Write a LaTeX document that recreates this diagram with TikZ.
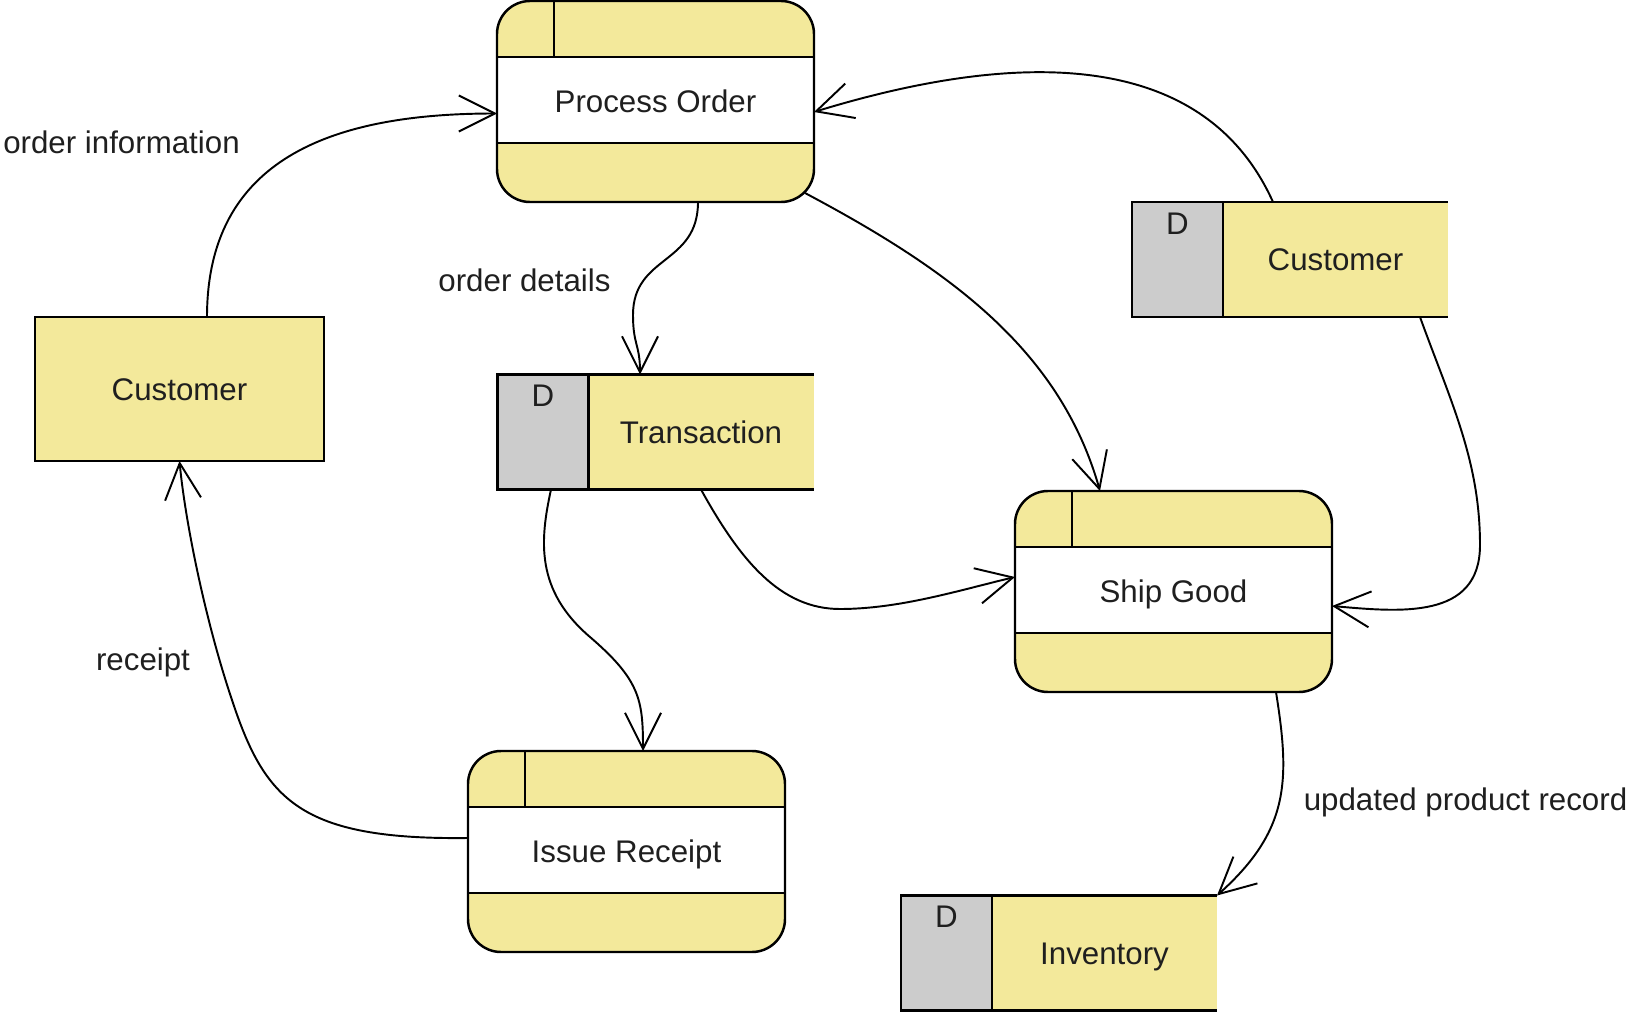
\documentclass[tikz,border=0pt]{standalone}
\usepackage{fontspec}
\setmainfont{Liberation Sans}
\usetikzlibrary{positioning,arrows.meta}

\definecolor{dfdyellow}{HTML}{F3E99B}
\definecolor{dfdgray}{HTML}{CCCCCC}

\tikzset{
  border/.style={line width=0.7pt},
  process/.style={border, draw, fill=dfdyellow, rounded corners=0.33cm,
    minimum width=3.17cm, minimum height=2.01cm, inner sep=0pt, outer sep=0pt,
    text height=6.5pt, text depth=0pt,
    path picture={
      \fill[white, sharp corners] ([yshift=-0.56cm]path picture bounding box.north west)
        rectangle ([yshift=0.59cm]path picture bounding box.south east);
      \draw[border, sharp corners]
        ([yshift=-0.56cm]path picture bounding box.north west) -- ([yshift=-0.56cm]path picture bounding box.north east)
        ([yshift=0.59cm]path picture bounding box.south west) -- ([yshift=0.59cm]path picture bounding box.south east)
        ([xshift=0.57cm]path picture bounding box.north west) -- ([xshift=0.57cm,yshift=-0.56cm]path picture bounding box.north west);
    }},
  entity/.style={border, draw, fill=dfdyellow, minimum width=2.89cm, minimum height=1.44cm,
    inner sep=0pt, outer sep=0pt, text height=6.5pt, text depth=0pt},
  store/.style={fill=dfdyellow, minimum width=2.25cm, minimum height=1.15cm,
    inner sep=0pt, outer sep=0pt, text height=6.5pt, text depth=0pt},
  dbox/.style={border, draw, fill=dfdgray, minimum width=0.91cm, minimum height=1.15cm,
    inner sep=0pt, outer sep=0pt},
  dmark/.style={inner sep=0pt},
  flow/.style={line width=0.55pt, -{Straight Barb[length=3.6mm, width=3.6mm]}},
  flowlabel/.style={anchor=base, inner sep=0pt}
}

\begin{document}
\begin{tikzpicture}[font=\fontsize{8.9}{10.7}\selectfont, text=black!88]
  \useasboundingbox (0,0) rectangle (16.33,-10.13);

  % processes
  \node[process] (po) at (6.555,-1.015) {Process Order};
  \node[process] (sg) at (11.735,-5.915) {Ship Good};
  \node[process] (ir) at (6.265,-8.515) {Issue Receipt};

  % external entity
  \node[entity] (cust) at (1.795,-3.89) {Customer};

  % data stores
  \node[store] (custs) at (13.355,-2.595) {Customer};
  \node[dbox, left=0pt of custs] (custsd) {};
  \node[dmark] (custsD) at ([yshift=-0.215cm]custsd.north) {D};

  \node[store] (trans) at (7.01,-4.32) {Transaction};
  \node[dbox, left=0pt of trans] (transd) {};
  \node[dmark] (transD) at ([yshift=-0.215cm]transd.north) {D};

  \node[store] (inv) at (11.045,-9.53) {Inventory};
  \node[dbox, left=0pt of inv] (invd) {};
  \node[dmark] (invD) at ([yshift=-0.215cm]invd.north) {D};

  \draw[border] (custsd.north east) -- (custs.north east) (custsd.south east) -- (custs.south east);
  \draw[border] (transd.north east) -- (trans.north east) (transd.south east) -- (trans.south east);
  \draw[border] (invd.north east) -- (inv.north east) (invd.south east) -- (inv.south east);

  % flows
  \draw[flow] ([xshift=0.275cm]cust.north) .. controls +(0,1.57) and +(-1.67,0) .. ([yshift=-0.12cm]po.west);
  \draw[flow] ([xshift=0.425cm]po.south) .. controls +(0,-0.63) and +(0,0.6) .. (6.33,-3.15)
    .. controls +(0,-0.3) and +(0,0.3) .. ([xshift=-0.61cm]trans.north);
  \draw[flow] ([shift={(-0.09,0.09)}]po.south east) .. controls (9.5,-2.7) and (10.6,-3.5) .. ([xshift=-0.735cm]sg.north);
  \draw[flow] ([xshift=-0.625cm]custs.north) .. controls (12.0,-0.4) and (10.0,-0.55) .. ([yshift=-0.105cm]po.east);
  \draw[flow] ([xshift=0.845cm]custs.south) .. controls (14.5,-4.0) and (14.8,-4.6) .. (14.8,-5.45)
    .. controls (14.8,-6.2) and (14.0,-6.12) .. ([yshift=-0.145cm]sg.east);
  \draw[flow] (trans.south) .. controls (7.40,-5.6) and (7.80,-6.09) .. (8.40,-6.09)
    .. controls (9.0,-6.09) and (9.6,-5.9) .. ([yshift=0.145cm]sg.west);
  \draw[flow] ([xshift=0.08cm]transd.south) .. controls (5.40,-5.4) and (5.35,-5.9) .. (5.90,-6.37)
    .. controls (6.40,-6.8) and (6.43,-7.0) .. ([xshift=0.165cm]ir.north);
  \draw[flow] ([yshift=0.135cm]ir.west) .. controls (3.0,-8.4) and (2.65,-8.0) .. (2.32,-7.0)
    .. controls (2.05,-6.2) and (1.85,-5.2) .. (cust.south);
  \draw[flow] ([xshift=1.025cm]sg.south) .. controls (12.9,-7.8) and (12.9,-8.3) .. (inv.north east);

  % flow labels
  \node[flowlabel] (lblinfo) at (1.215,-1.53) {order information};
  \node[flowlabel] (lbldet) at (5.245,-2.91) {order details};
  \node[flowlabel] (lblrec) at (1.43,-6.70) {receipt};
  \node[flowlabel] (lblupd) at (14.655,-8.10) {updated product record};
\end{tikzpicture}
\end{document}
